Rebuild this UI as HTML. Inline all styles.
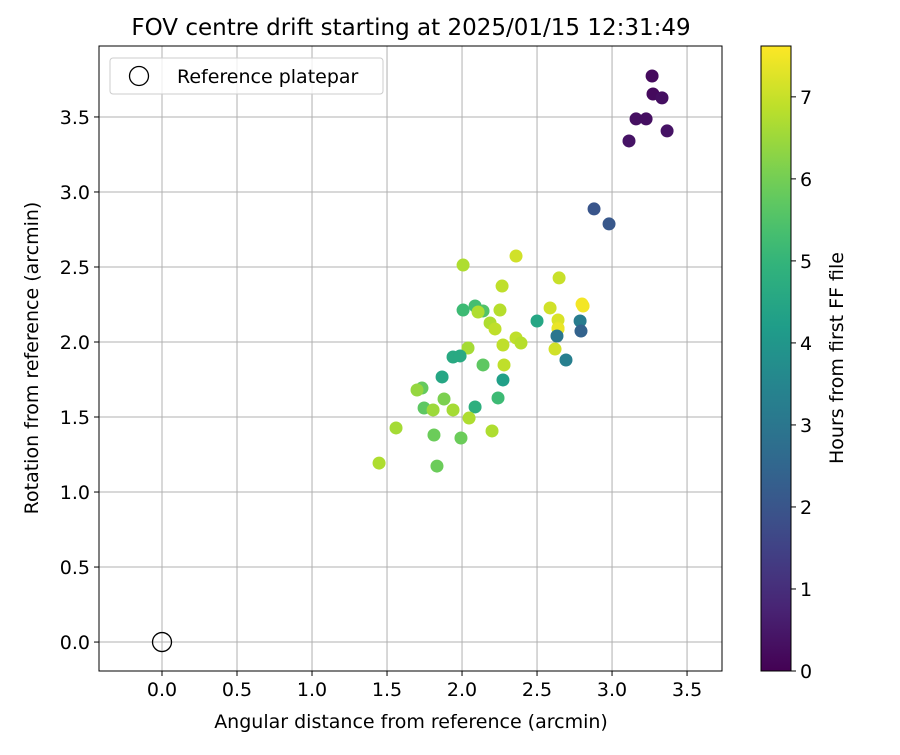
<!DOCTYPE html>
<html><head><meta charset="utf-8"><style>
body{margin:0;background:#fff}
svg text{font-family:"DejaVu Sans","Liberation Sans",sans-serif;fill:#000}
</style></head><body>
<svg id="c" width="900" height="750" xmlns="http://www.w3.org/2000/svg"></svg>
<script>
const xVals=[3.267,3.273,3.333,3.160,3.227,3.367,3.113,2.880,2.980,2.007,2.360,2.647,2.267,2.007,2.087,2.140,2.107,2.253,2.187,2.220,2.500,2.587,2.640,2.800,2.807,2.787,2.640,2.640,2.633,2.793,2.620,2.693,2.360,2.393,2.273,2.040,1.940,1.987,2.140,2.280,1.867,1.733,1.700,2.273,2.240,1.747,1.880,1.807,1.940,2.087,2.047,1.560,1.813,1.993,2.200,1.447,1.833];
const yVals=[3.773,3.653,3.627,3.487,3.487,3.407,3.340,2.887,2.787,2.513,2.573,2.427,2.373,2.213,2.240,2.207,2.200,2.213,2.127,2.087,2.140,2.227,2.147,2.253,2.240,2.140,2.093,2.087,2.040,2.073,1.953,1.880,2.027,1.993,1.980,1.960,1.900,1.907,1.847,1.847,1.767,1.693,1.680,1.747,1.627,1.560,1.620,1.547,1.547,1.567,1.493,1.427,1.380,1.360,1.407,1.193,1.173];
const hours=[0.2,0.2,0.3,0.3,0.3,0.4,0.4,2.0,2.1,6.7,7.1,7.0,6.9,5.2,5.3,5.5,6.7,6.8,6.7,6.9,4.5,7.1,7.2,7.5,7.5,3.2,7.3,7.4,3.0,2.4,7.1,3.3,6.9,6.8,6.9,6.6,4.6,4.6,5.7,6.9,4.5,5.8,6.4,4.3,5.2,5.7,6.1,6.5,6.6,4.8,6.7,6.6,5.9,5.9,6.7,6.7,5.9];
const xTicks=[0,0.5,1,1.5,2,2.5,3,3.5];
const yTicks=[0,0.5,1,1.5,2,2.5,3,3.5];
const cTicks=[0,1,2,3,4,5,6,7];
const L=99,R=722,T=46,B=671,xMin=-0.42,xMax=3.733,yMin=-0.193,yMax=3.973,cMax=7.62;
const sx=v=>L+(v-xMin)/(xMax-xMin)*(R-L);
const sy=v=>B-(v-yMin)/(yMax-yMin)*(B-T);
const CB={x:761,w:30};
const sc=v=>B-v/cMax*(B-T);
const vir=[[68,1,84],[72,40,120],[62,74,137],[49,104,142],[38,130,142],[31,158,137],[53,183,121],[109,205,89],[180,222,44],[253,231,37]];
function vc(t){t=Math.max(0,Math.min(1,t))*9;const i=Math.min(8,Math.floor(t)),f=t-i;const a=vir[i],b=vir[i+1];return`rgb(${a.map((c,k)=>Math.round(c+(b[k]-c)*f)).join(',')})`;}
const svg=document.getElementById('c');const NS='http://www.w3.org/2000/svg';
function el(tag,at,txt){const e=document.createElementNS(NS,tag);for(const k in at)e.setAttribute(k,at[k]);if(txt!==undefined)e.textContent=txt;svg.appendChild(e);return e;}
let e;
const FS=19;
xTicks.forEach(v=>{const x=sx(v);
e=el('line',{x1:x,x2:x,y1:T,y2:B,stroke:'#b0b0b0','stroke-width':1});
e=el('line',{x1:x,x2:x,y1:B,y2:B+5,stroke:'#000'});
e=el('text',{x:x,y:B+25,'text-anchor':'middle','font-size':FS},v.toFixed(1));});
yTicks.forEach(v=>{const y=sy(v);
e=el('line',{x1:L,x2:R,y1:y,y2:y,stroke:'#b0b0b0','stroke-width':1});
e=el('line',{x1:L-5,x2:L,y1:y,y2:y,stroke:'#000'});
e=el('text',{x:L-9,y:y+7,'text-anchor':'end','font-size':FS},v.toFixed(1));});
xVals.forEach((xv,i)=>{e=el('circle',{cx:sx(xv),cy:sy(yVals[i]),r:6.5,fill:vc(hours[i]/cMax)});

});
e=el('circle',{cx:sx(0),cy:sy(0),r:9.5,fill:'none',stroke:'#000','stroke-width':1.3});
e=el('rect',{x:L,y:T,width:R-L,height:B-T,fill:'none',stroke:'#000','stroke-width':1});
e=el('rect',{x:110,y:58,width:273,height:36,rx:3,fill:'#fff','fill-opacity':0.8,stroke:'#ccc'});
e=el('circle',{cx:139,cy:76,r:9.5,fill:'none',stroke:'#000','stroke-width':1.3});
e=el('text',{x:177,y:83,'font-size':FS},'Reference platepar');
e=el('text',{x:411,y:35,'text-anchor':'middle','font-size':23},'FOV centre drift starting at 2025/01/15 12:31:49');
e=el('text',{x:411,y:728,'text-anchor':'middle','font-size':FS},'Angular distance from reference (arcmin)');
e=el('text',{x:38,y:358,'text-anchor':'middle','font-size':FS,transform:'rotate(-90 38 358)'},'Rotation from reference (arcmin)');
const defs=el('defs',{});const g=document.createElementNS(NS,'linearGradient');g.setAttribute('id','vg');g.setAttribute('x1','0');g.setAttribute('y1','1');g.setAttribute('x2','0');g.setAttribute('y2','0');defs.appendChild(g);
for(let i=0;i<=20;i++){const s=document.createElementNS(NS,'stop');s.setAttribute('offset',i/20);s.setAttribute('stop-color',vc(i/20));g.appendChild(s);}
e=el('rect',{x:CB.x,y:T,width:CB.w,height:B-T,fill:'url(#vg)',stroke:'#000','stroke-width':1});
cTicks.forEach(v=>{const y=sc(v);
e=el('line',{x1:CB.x+CB.w,x2:CB.x+CB.w+5,y1:y,y2:y,stroke:'#000'});
e=el('text',{x:CB.x+CB.w+9,y:y+7,'font-size':FS},String(v));});
e=el('text',{x:843,y:358,'text-anchor':'middle','font-size':FS,transform:'rotate(-90 843 358)'},'Hours from first FF file');
</script>
</body></html>
